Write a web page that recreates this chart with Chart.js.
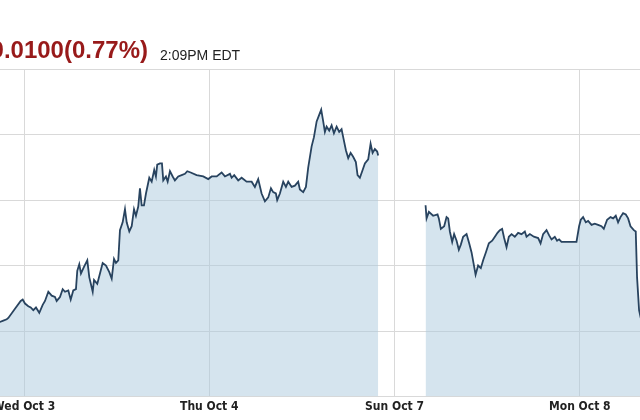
<!DOCTYPE html>
<html>
<head>
<meta charset="utf-8">
<script src="https://cdn.jsdelivr.net/npm/chart.js@4/dist/chart.umd.min.js"></script>
<style>
  body { margin: 0; background: #fff; }
  #wrap { position: relative; width: 640px; height: 420px; overflow: hidden; }
  #change {
    position: absolute; right: 492px; top: 36px; white-space: nowrap;
    font: bold 24px "Liberation Sans", Arial, sans-serif; color: #981a1a;
  }
  #time {
    position: absolute; left: 160px; top: 47px; white-space: nowrap;
    font: 14px "Liberation Sans", Arial, sans-serif; color: #222;
  }
</style>
</head>
<body>
<div id="wrap">
  <canvas id="priceChart"></canvas>
  <div id="change">+0.0100(0.77%)</div>
  <div id="time">2:09PM EDT</div>
</div>
<script>
// hours since Wed Oct 3 00:00, weekend squeezed out (Sun Oct 7 = 48, Mon Oct 8 = 72)
const hours = [
  -3.37, -3.11, -2.68, -2.24, -2.03, -1.17, -0.43, -0.17, 0.13, 0.56,
  0.87, 1.20, 1.55, 1.98, 2.42, 2.72, 3.15, 3.59, 4.01, 4.23,
  4.66, 5.01, 5.31, 5.74, 6.05, 6.38, 6.73, 6.90, 7.16, 7.38,
  7.77, 8.20, 8.46, 8.90, 9.07, 9.49, 9.84, 10.19, 10.62, 11.05,
  11.36, 11.66, 11.91, 12.21, 12.43, 12.78, 13.08, 13.30, 13.64, 13.95,
  14.25, 14.50, 14.80, 15.02, 15.24, 15.54, 15.80, 16.23, 16.54, 16.87,
  17.09, 17.26, 17.61, 17.87, 18.04, 18.39, 18.61, 18.91, 19.26, 19.55,
  19.98, 20.42, 20.85, 21.15, 21.59, 22.36, 23.22, 23.87, 24.31, 24.96,
  25.60, 26.03, 26.68, 26.90, 27.23, 27.75, 28.19, 28.84, 29.49, 29.91,
  30.34, 30.78, 31.21, 31.64, 31.99, 32.28, 32.63, 32.80, 33.15, 33.58,
  33.93, 34.23, 34.67, 35.09, 35.52, 35.74, 36.17, 36.52, 36.82, 37.26,
  37.56, 37.91, 38.24, 38.50, 38.76, 38.98, 39.20, 39.54, 39.85, 40.15,
  40.50, 40.83, 41.14, 41.35, 41.70, 42.00, 42.31, 42.64, 42.99, 43.21,
  43.51, 43.81, 44.16, 44.59, 44.90, 45.16, 45.45, 45.75, 45.88,
  49.00,
  52.02, 52.15, 52.45, 53.00, 53.57, 53.74, 54.00, 54.43, 54.74, 54.95,
  55.17, 55.47, 55.72, 56.04, 56.33, 56.59, 56.89, 57.33, 57.67, 57.98,
  58.32, 58.50, 58.83, 59.18, 59.48, 59.83, 60.22, 60.65, 61.00, 61.34,
  61.64, 61.94, 62.20, 62.51, 62.81, 63.16, 63.58, 64.01, 64.45, 64.88,
  65.10, 65.53, 66.05, 66.61, 66.92, 67.25, 67.69, 68.03, 68.34, 68.76,
  69.06, 69.32, 69.63, 71.57, 71.91, 72.13, 72.43, 72.78, 73.08, 73.52,
  73.94, 74.37, 74.81, 75.11, 75.54, 75.98, 76.32, 76.66, 76.96, 77.27,
  77.61, 77.96, 78.26, 78.57, 79.00, 79.25, 79.42, 79.68, 79.90
];

const eurusd = [
  1.2907, 1.2907, 1.2908, 1.2909, 1.2910, 1.2917, 1.2923, 1.2924, 1.2921, 1.2919,
  1.2918, 1.2916, 1.2918, 1.2914, 1.2920, 1.2923, 1.2930, 1.2927, 1.2926, 1.2923,
  1.2926, 1.2932, 1.2930, 1.2931, 1.2924, 1.2931, 1.2932, 1.2946, 1.2951, 1.2944,
  1.2949, 1.2954, 1.2941, 1.2930, 1.2939, 1.2936, 1.2944, 1.2952, 1.2950, 1.2945,
  1.2940, 1.2955, 1.2952, 1.2954, 1.2977, 1.2983, 1.2993, 1.2983, 1.2976, 1.2980,
  1.2993, 1.2988, 1.2995, 1.3009, 1.2996, 1.2996, 1.3005, 1.3017, 1.3014, 1.3023,
  1.3018, 1.3027, 1.3028, 1.3028, 1.3015, 1.3018, 1.3014, 1.3022, 1.3018, 1.3015,
  1.3018, 1.3019, 1.3020, 1.3022, 1.3021, 1.3019, 1.3018, 1.3016, 1.3018, 1.3018,
  1.3021, 1.3018, 1.3020, 1.3017, 1.3019, 1.3015, 1.3017, 1.3014, 1.3014, 1.3010,
  1.3016, 1.3005, 1.2999, 1.3002, 1.3009, 1.3006, 1.3005, 1.3000, 1.3005, 1.3014,
  1.3010, 1.3014, 1.3010, 1.3011, 1.3014, 1.3008, 1.3006, 1.3010, 1.3025, 1.3041,
  1.3048, 1.3060, 1.3065, 1.3069, 1.3060, 1.3052, 1.3056, 1.3053, 1.3057, 1.3051,
  1.3056, 1.3052, 1.3054, 1.3048, 1.3038, 1.3032, 1.3036, 1.3033, 1.3029, 1.3019,
  1.3017, 1.3022, 1.3028, 1.3031, 1.3043, 1.3036, 1.3039, 1.3037, 1.3034,
  null,
  1.2996, 1.2986, 1.2991, 1.2988, 1.2989, 1.2986, 1.2978, 1.2980, 1.2987, 1.2986,
  1.2976, 1.2968, 1.2974, 1.2969, 1.2962, 1.2966, 1.2972, 1.2974, 1.2967, 1.2960,
  1.2949, 1.2943, 1.2950, 1.2948, 1.2954, 1.2960, 1.2967, 1.2969, 1.2972, 1.2975,
  1.2977, 1.2978, 1.2971, 1.2964, 1.2972, 1.2974, 1.2972, 1.2975, 1.2974, 1.2976,
  1.2972, 1.2974, 1.2972, 1.2971, 1.2967, 1.2974, 1.2977, 1.2973, 1.2970, 1.2972,
  1.2969, 1.2970, 1.2968, 1.2968, 1.2980, 1.2985, 1.2987, 1.2983, 1.2984, 1.2981,
  1.2982, 1.2981, 1.2980, 1.2978, 1.2985, 1.2987, 1.2986, 1.2988, 1.2983, 1.2987,
  1.2990, 1.2989, 1.2986, 1.2980, 1.2977, 1.2976, 1.2941, 1.2916, 1.2910
];

const tickHours = [0, 24, 48, 72];
const tickLabels = ["Wed Oct 3", "Thu Oct 4", "Sun Oct 7", "Mon Oct 8"];

const gridColor = "#d9d9d9";

const points = hours.map((h, i) => ({ x: h, y: eurusd[i] }));

const ctx = document.getElementById("priceChart").getContext("2d");
const chart = new Chart(ctx, {
  type: "line",
  data: {
    datasets: [{
      data: points,
      borderColor: "#28435f",
      borderWidth: 1.8,
      backgroundColor: "rgba(171,201,221,0.5)",
      fill: "start",
      tension: 0,
      pointRadius: 0,
      spanGaps: false
    }]
  },
  options: {
    responsive: true,
    maintainAspectRatio: false,
    animation: false,
    layout: { padding: { top: 69, left: 0, right: 0, bottom: 3 } },
    plugins: {
      legend: { display: false },
      tooltip: { enabled: false }
    },
    scales: {
      x: {
        type: "linear",
        min: -3.11,
        max: 79.8,
        afterBuildTicks: axis => {
          axis.ticks = tickHours.map(v => ({ value: v }));
        },
        afterFit: axis => {
          axis.paddingLeft = 0;
          axis.paddingRight = 0;
        },
        ticks: {
          autoSkip: false,
          maxRotation: 0,
          padding: 3,
          color: "#222",
          font: { family: "'DejaVu Sans Condensed', 'Liberation Sans', sans-serif", size: 12, weight: "bold" },
          callback: v => tickLabels[tickHours.indexOf(v)]
        },
        grid: { color: gridColor, drawTicks: false },
        border: { display: false }
      },
      y: {
        min: 1.285,
        max: 1.310,
        ticks: { display: false, stepSize: 0.005 },
        grid: { color: gridColor, drawTicks: false },
        border: { display: false }
      }
    }
  }
});
</script>
</body>
</html>
